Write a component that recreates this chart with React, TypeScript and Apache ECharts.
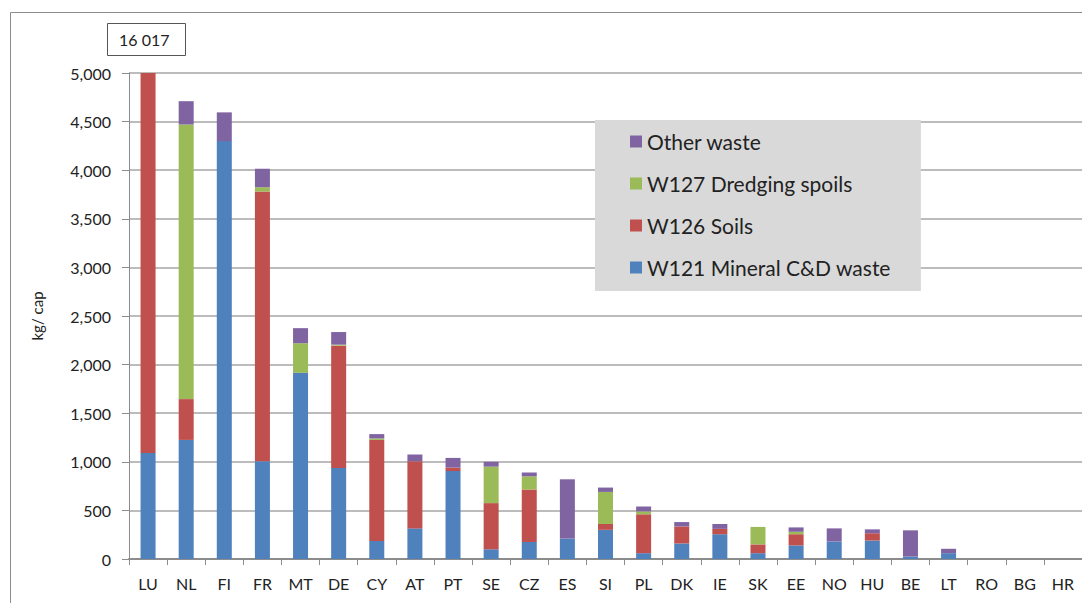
import React, { useEffect, useRef } from "react";
import * as echarts from "echarts";

const categories = ["LU","NL","FI","FR","MT","DE","CY","AT","PT","SE","CZ","ES","SI","PL","DK","IE","SK","EE","NO","HU","BE","LT","RO","BG","HR"];
const mineralCD = [1090,1225,4300,1005,1915,935,185,315,905,100,175,210,300,60,160,255,60,140,180,190,25,60,0,0,0];
const soils =     [14927,420,0,2775,0,1260,1040,690,35,475,540,0,60,400,175,55,90,115,0,75,0,0,0,0,0];
const dredging =  [0,2825,0,45,305,10,15,0,0,375,135,0,330,30,0,0,180,25,0,0,0,0,0,0,0];
const other =     [0,240,295,190,155,130,45,70,100,50,40,610,45,50,45,50,0,45,135,40,270,45,0,0,0];
const yTicks = [0,500,1000,1500,2000,2500,3000,3500,4000,4500,5000];
const luTotalLabel = "16 017";

const FONT = "Lato";

export default function App() {
  const ref = useRef<HTMLDivElement>(null);
  useEffect(() => {
    const chart = echarts.init(ref.current!, null, { renderer: "svg" });
    const mk = (name: string, data: number[], color: string) => ({
      name, type: "bar", stack: "total", data, barWidth: 15,
      itemStyle: { color }, emphasis: { disabled: true }, clip: true,
    });
    chart.setOption({
      animation: false,
      textStyle: { fontFamily: FONT },
      grid: { left: 129, top: 73, width: 963, height: 486 },
      legend: {
        orient: "vertical", left: 595, top: 120,
        data: ["Other waste", "W127 Dredging spoils", "W126 Soils", "W121 Mineral C&D waste"],
        backgroundColor: "#d9d9d9", padding: [11, 30, 13, 35],
        itemWidth: 12, itemHeight: 12, itemGap: 21, icon: "rect",
        textStyle: { fontFamily: FONT, fontSize: 21, color: "#222" },
        selectedMode: false,
      },
      xAxis: {
        type: "category", data: categories,
        axisLine: { lineStyle: { color: "#8c8c8c", width: 2 } },
        axisTick: { show: true, length: 6, lineStyle: { color: "#8c8c8c" } },
        axisLabel: { fontSize: 16, color: "#222", margin: 16, fontFamily: FONT },
      },
      yAxis: {
        type: "value", min: 0, max: 5000, interval: 500,
        name: "kg/ cap", nameLocation: "middle", nameRotate: 90, nameGap: 85,
        nameTextStyle: { fontSize: 15, color: "#222", fontFamily: FONT },
        axisLine: { show: true, lineStyle: { color: "#8c8c8c" } },
        axisTick: { show: true, length: 7, lineStyle: { color: "#8c8c8c" } },
        axisLabel: {
          fontSize: 16, color: "#222", margin: 18, fontFamily: FONT,
          formatter: (v: number) => (yTicks.includes(v) ? v.toLocaleString("en-US") : ""),
        },
        splitLine: { lineStyle: { color: "#a6a6a6", width: 1.5 } },
      },
      graphic: [
        { type: "rect", left: 8, top: 10, shape: { width: 1090, height: 600 }, style: { fill: "none", stroke: "#8c8c8c", lineWidth: 1 }, silent: true },
        { type: "rect", left: 107, top: 23, shape: { width: 78, height: 32 }, style: { fill: "#fff", stroke: "#555", lineWidth: 1 } },
        { type: "text", left: 119, top: 31, style: { text: luTotalLabel, fontSize: 16, fontFamily: FONT, fill: "#222" } },
      ],
      series: [
        mk("W121 Mineral C&D waste", mineralCD, "#4f81bd"),
        mk("W126 Soils", soils, "#c0504d"),
        mk("W127 Dredging spoils", dredging, "#9bbb59"),
        mk("Other waste", other, "#8064a2"),
      ],
    });
    return () => chart.dispose();
  }, []);
  return <div ref={ref} style={{ position: "fixed", left: 0, top: 0, width: 1082, height: 603, background: "#fff" }} />;
}
